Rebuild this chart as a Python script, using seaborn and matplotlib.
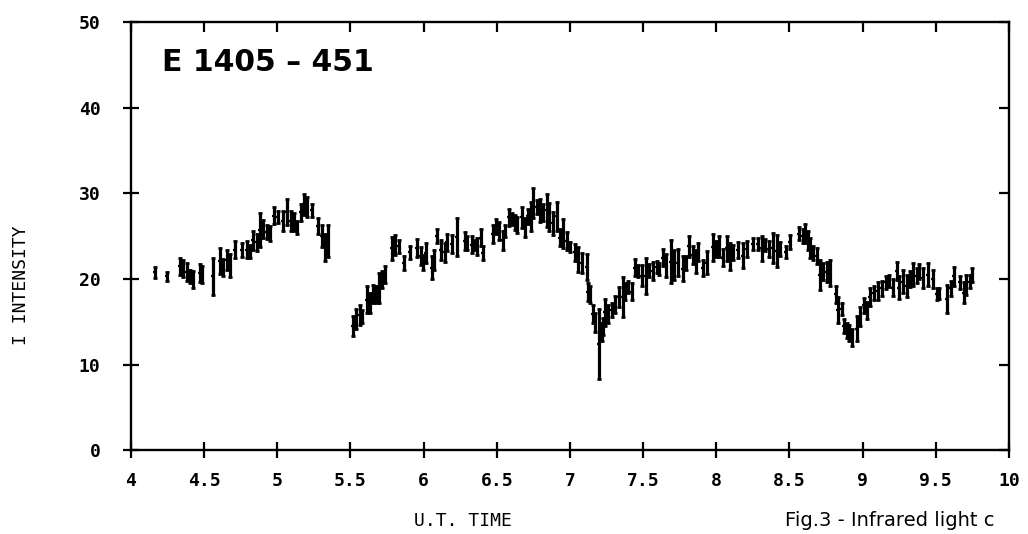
import numpy as np
import pandas as pd
import seaborn as sns
import matplotlib
matplotlib.use("Agg")
import matplotlib.pyplot as plt

# ---------------- data ----------------
ut_time = [
    4.164, 4.244, 4.335, 4.357, 4.383, 4.403, 4.422, 4.472, 4.483, 4.558,
    4.608, 4.631, 4.654, 4.677, 4.711, 4.757, 4.791, 4.813, 4.836, 4.859,
    4.882, 4.904, 4.928, 4.950, 4.977, 5.007, 5.041, 5.068, 5.092, 5.114,
    5.133, 5.160, 5.182, 5.201, 5.235, 5.280, 5.304, 5.326, 5.349,
    5.520, 5.538, 5.565, 5.579, 5.611, 5.634, 5.656, 5.674, 5.697, 5.713,
    5.736, 5.782, 5.804, 5.834, 5.866, 5.907, 5.957, 5.980, 5.998, 6.016,
    6.055, 6.073, 6.094, 6.117, 6.146, 6.162, 6.192, 6.226, 6.283, 6.299,
    6.329, 6.351, 6.367, 6.390, 6.408, 6.472, 6.495, 6.517, 6.541, 6.556,
    6.586, 6.602, 6.624, 6.640, 6.670, 6.693, 6.716, 6.732, 6.746, 6.773,
    6.796, 6.818, 6.841, 6.857, 6.887, 6.910, 6.932, 6.955, 6.978, 7.001,
    7.035, 7.058, 7.083, 7.115, 7.126, 7.137, 7.160, 7.171, 7.201, 7.217,
    7.228, 7.239, 7.262, 7.285, 7.308, 7.338, 7.361, 7.377, 7.399, 7.422,
    7.445, 7.468, 7.491, 7.520, 7.543, 7.566, 7.593, 7.611, 7.634, 7.657,
    7.689, 7.712, 7.741, 7.771, 7.794, 7.816, 7.839, 7.862, 7.878, 7.908,
    7.935, 7.976, 7.999, 8.019, 8.044, 8.071, 8.094, 8.117, 8.151, 8.181,
    8.208, 8.254, 8.284, 8.311, 8.333, 8.363, 8.390, 8.413, 8.436, 8.477,
    8.506, 8.568, 8.591, 8.606, 8.629, 8.641, 8.663, 8.686, 8.710, 8.732,
    8.755, 8.777, 8.818, 8.834, 8.857, 8.873, 8.891, 8.910, 8.926, 8.964,
    8.983, 9.010, 9.033, 9.051, 9.079, 9.108, 9.131, 9.161, 9.183, 9.211,
    9.238, 9.252, 9.279, 9.302, 9.325, 9.343, 9.371, 9.389, 9.416, 9.450,
    9.480, 9.507, 9.525, 9.580, 9.603, 9.626, 9.667, 9.690, 9.708, 9.731,
    9.749,
]
intensity = [
    20.8, 20.3, 21.5, 21.2, 20.8, 20.3, 19.9, 20.7, 20.5, 20.3,
    22.1, 21.3, 22.2, 21.6, 23.4, 23.4, 23.4, 23.2, 24.5, 24.3,
    25.7, 25.8, 25.5, 25.3, 27.4, 27.2, 26.8, 27.8, 26.8, 26.6,
    26.0, 27.8, 28.7, 28.4, 28.0, 26.2, 25.0, 23.7, 24.4,
    14.5, 15.3, 15.8, 15.6, 17.6, 17.2, 18.3, 18.2, 19.0, 19.9,
    20.5, 23.6, 24.0, 23.8, 21.9, 23.1, 23.6, 22.7, 21.9, 23.0,
    21.3, 22.2, 25.0, 23.4, 23.1, 24.3, 24.1, 24.9, 24.4, 24.2,
    24.0, 24.0, 23.8, 24.8, 23.0, 25.2, 26.1, 25.6, 24.5, 25.6,
    27.2, 27.0, 26.6, 26.3, 27.2, 26.0, 27.3, 27.3, 28.9, 28.4,
    28.0, 27.8, 28.0, 27.2, 26.5, 27.3, 24.8, 25.3, 24.4, 23.7,
    23.1, 22.3, 21.9, 21.4, 18.5, 18.2, 15.9, 14.9, 12.4, 13.8,
    14.4, 16.1, 15.9, 16.4, 17.0, 17.9, 17.9, 18.5, 19.1, 18.5,
    21.3, 20.9, 20.4, 20.3, 21.0, 20.9, 21.4, 21.2, 22.5, 21.6,
    22.0, 21.6, 21.9, 21.2, 21.9, 23.8, 22.8, 22.0, 23.1, 21.3,
    21.9, 23.7, 23.5, 23.8, 22.5, 23.6, 22.6, 23.1, 23.4, 22.7,
    23.5, 24.1, 24.1, 23.6, 24.0, 23.5, 23.6, 23.3, 23.5, 23.1,
    24.3, 25.3, 25.0, 25.3, 24.5, 23.6, 23.0, 22.7, 20.5, 20.9,
    20.8, 20.7, 18.2, 16.4, 16.5, 14.5, 14.0, 13.7, 13.2, 14.2,
    15.6, 16.9, 16.3, 17.9, 18.4, 18.6, 18.9, 19.6, 19.8, 19.0,
    20.9, 19.0, 19.7, 19.2, 20.0, 20.5, 20.4, 20.9, 20.1, 20.5,
    20.0, 18.3, 18.3, 17.7, 18.9, 20.3, 19.6, 18.4, 19.3, 19.7,
    20.5,
]
error = [
    0.65, 0.5, 1.0, 1.0, 1.05, 0.8, 1.0, 1.0, 1.0, 2.2,
    1.55, 1.0, 1.15, 1.35, 1.0, 0.8, 1.0, 0.8, 1.15, 1.0,
    1.95, 1.05, 0.8, 0.9, 1.0, 0.7, 1.15, 1.55, 1.15, 1.05,
    0.8, 1.0, 1.25, 1.15, 0.8, 0.9, 1.25, 1.55, 1.85,
    1.15, 1.15, 1.15, 0.8, 1.55, 1.15, 1.05, 1.0, 1.75, 1.0,
    1.0, 1.35, 1.15, 0.8, 0.8, 0.8, 1.05, 1.05, 0.9, 1.15,
    1.35, 1.15, 0.8, 1.15, 1.15, 1.0, 1.05, 2.2, 1.05, 0.8,
    1.0, 0.6, 1.0, 1.0, 0.8, 1.05, 0.9, 1.05, 1.15, 0.7,
    1.0, 0.7, 0.9, 0.9, 1.25, 1.15, 0.9, 1.65, 1.75, 0.8,
    1.35, 1.0, 1.95, 1.65, 1.35, 1.65, 1.0, 1.65, 1.05, 0.6,
    1.0, 1.45, 1.15, 1.55, 1.05, 1.0, 1.0, 1.15, 4.1, 1.0,
    1.0, 1.55, 1.0, 0.8, 1.0, 1.15, 2.3, 1.0, 0.7, 1.0,
    1.0, 0.7, 1.25, 2.1, 0.8, 1.05, 0.7, 0.7, 1.0, 1.35,
    2.5, 1.75, 1.55, 1.45, 0.8, 1.25, 1.0, 1.35, 1.05, 0.9,
    1.35, 1.55, 0.9, 1.25, 1.0, 1.45, 1.55, 0.9, 0.9, 1.45,
    0.9, 0.7, 0.7, 1.45, 0.7, 0.9, 1.75, 1.85, 0.8, 0.7,
    0.8, 0.8, 0.8, 1.15, 1.15, 1.15, 0.8, 0.9, 1.75, 1.0,
    1.15, 1.55, 1.0, 1.55, 0.7, 0.8, 0.9, 0.9, 1.0, 1.45,
    1.15, 0.9, 1.0, 1.05, 0.8, 1.05, 0.9, 0.8, 0.7, 1.0,
    1.05, 1.35, 1.35, 1.25, 0.9, 1.35, 0.9, 0.9, 1.15, 1.35,
    1.05, 0.7, 0.6, 1.65, 0.9, 1.15, 0.8, 1.25, 1.15, 0.8,
    0.8,
]
x_ticks = [4, 4.5, 5, 5.5, 6, 6.5, 7, 7.5, 8, 8.5, 9, 9.5, 10]
x_tick_labels = ["4", "4.5", "5", "5.5", "6", "6.5", "7", "7.5", "8", "8.5", "9", "9.5", "10"]
y_ticks = [0, 10, 20, 30, 40, 50]
y_tick_labels = ["0", "10", "20", "30", "40", "50"]
object_name = "E 1405 \u2013 451"
x_label = "U.T. TIME"
y_label = "I INTENSITY"
caption = "Fig.3 - Infrared light c"

df = pd.DataFrame({"t": ut_time, "I": intensity, "err": error})

# ---------------- styling ----------------
sns.set_theme(style="ticks")
plt.rcParams["font.family"] = ["DejaVu Sans Mono", "DejaVu Sans"]

fig = plt.figure(figsize=(10.28, 5.34), dpi=100)
fig.patch.set_facecolor("white")
ax = fig.add_axes([0.1274, 0.157, 0.854, 0.8015])
ax.set_facecolor("white")

# error bars (vertical bars of the light curve)
ax.errorbar(df["t"], df["I"], yerr=df["err"], fmt="none", ecolor="black",
            elinewidth=2.3, capsize=1.6, capthick=2.0)
# short centre marks through seaborn
sns.scatterplot(data=df, x="t", y="I", ax=ax, marker="_", s=8, color="black",
                linewidth=1.6, legend=False)

ax.set_xlim(4, 10)
ax.set_ylim(0, 50)

for sp in ax.spines.values():
    sp.set_visible(True)
    sp.set_linewidth(1.7)
    sp.set_color("black")

ax.set_xticks(x_ticks)
ax.set_xticklabels(x_tick_labels, fontsize=13, fontweight="bold")
ax.set_yticks(y_ticks)
ax.set_yticklabels(y_tick_labels, fontsize=13, fontweight="bold")
ax.tick_params(axis="x", which="major", direction="inout", length=11, width=1.6,
               pad=10, colors="black", top=True, labeltop=False)
ax.tick_params(axis="y", which="major", direction="inout", length=12, width=1.6,
               pad=16, colors="black", right=True, labelright=False)
# top/right ticks pointing inwards
for tl in ax.xaxis.get_major_ticks():
    tl.tick2line.set_marker(3)  # TICKDOWN
    tl.tick2line.set_markersize(7)
for tl in ax.yaxis.get_major_ticks():
    tl.tick2line.set_marker(0)  # TICKLEFT
    tl.tick2line.set_markersize(7)

ax.set_xlabel("")
ax.set_ylabel("")

# object name written inside the plot
ax.text((162 - 131) / 878, 0.906, object_name, transform=ax.transAxes,
        ha="left", va="center", fontsize=21.5, fontweight="bold",
        family=["DejaVu Sans"], color="black")

fig.text(463 / 1028, 1 - 521 / 534, x_label, ha="center", va="center",
         fontsize=13, color="black")
fig.text(21 / 1028, 1 - 285 / 534, y_label, ha="center", va="center",
         rotation=90, fontsize=13, color="black")
fig.text(785 / 1028, 1 - 521 / 534, caption, ha="left", va="center",
         fontsize=14, family=["DejaVu Sans"], color="black")

fig.savefig("out.png", dpi=100, facecolor="white")
